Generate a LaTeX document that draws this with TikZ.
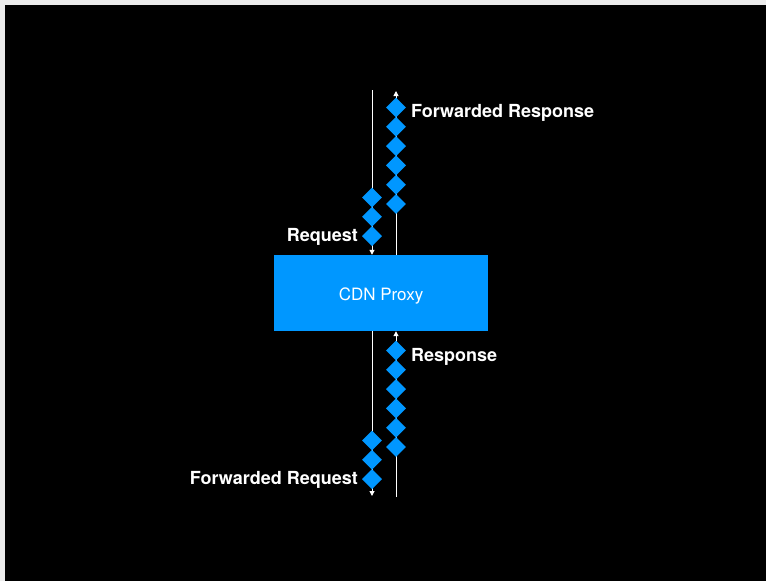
\documentclass[tikz,border=0pt]{standalone}
\usepackage{fontspec}
\setmainfont{TeX Gyre Heros}
\usetikzlibrary{shapes.geometric,arrows.meta}
\definecolor{cdnblue}{RGB}{0,151,255}
\tikzset{
  packet/.style={diamond,fill=cdnblue,minimum width=20pt,minimum height=20pt,inner sep=0pt},
  wire/.style={white,line width=1pt,-{Triangle[width=5pt,length=5pt]}},
  lbl/.style={text=white,font=\bfseries\fontsize{18}{20}\selectfont},
}

\begin{document}
\begin{tikzpicture}[x=1pt,y=-1pt]
  \fill[gray!15] (0,0) rectangle (766,581);
  \fill[black] (5,5) rectangle (766,581);
  \node[fill=cdnblue,minimum width=214pt,minimum height=76pt,inner sep=0pt,
        text=white,font=\fontsize{17}{19}\selectfont] (proxy) at (381,293)
        {\raisebox{-2.5pt}[\height][\depth]{CDN Proxy}};
  % wires
  \coordinate (reqin) at (372,90);
  \coordinate (respout) at (396,91);
  \coordinate (reqout) at (372,496);
  \coordinate (respin) at (396,497);
  \draw[wire] (reqin) -- (reqin |- proxy.north);
  \draw[wire] (respout |- proxy.north) -- (respout);
  \draw[wire] (reqout |- proxy.south) -- (reqout);
  \draw[wire] (respin) -- (respin |- proxy.south);
  % packets
  \foreach \y [count=\i] in {107.5,126.8,146.1,165.4,184.7,204}
    \node[packet] (fr\i) at (396,\y) {};
  \foreach \y [count=\i] in {197.5,216.8,236.1}
    \node[packet] (rq\i) at (372,\y) {};
  \foreach \y [count=\i] in {350.5,369.8,389.1,408.4,427.7,447}
    \node[packet] (rs\i) at (396,\y) {};
  \foreach \y [count=\i] in {440.5,459.8,479.1}
    \node[packet] (fq\i) at (372,\y) {};
  % labels
  \node[lbl,anchor=west] (frlbl) at (407.5,113) {Forwarded Response};
  \node[lbl,anchor=east] (rqlbl) at (361.5,237) {Request};
  \node[lbl,anchor=west] (rslbl) at (407.5,357) {Response};
  \node[lbl,anchor=east] (fqlbl) at (361.5,480) {Forwarded Request};
\end{tikzpicture}
\end{document}
